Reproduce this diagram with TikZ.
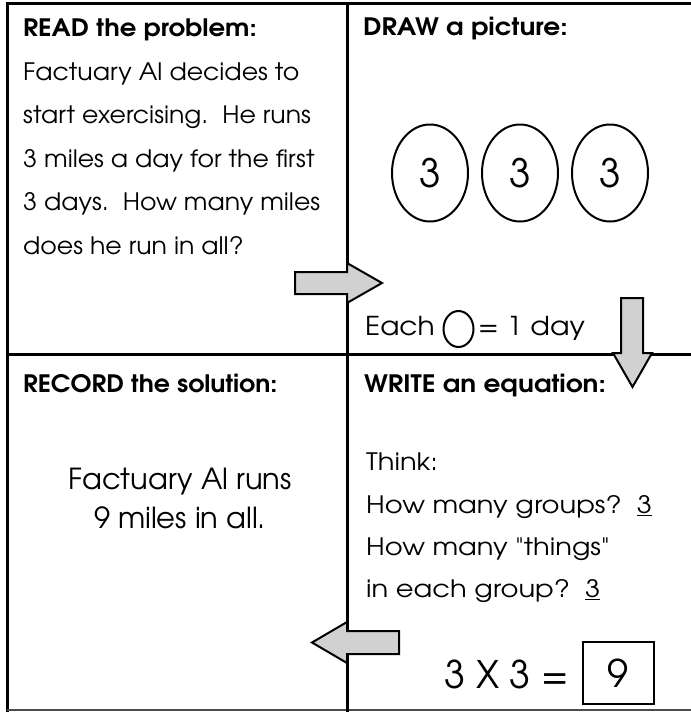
\documentclass[tikz,border=0pt]{standalone}
\usepackage{fontspec}
\usepackage{graphicx}
\setmainfont{TeX Gyre Adventor}[Ligatures=TeXOff]
\usetikzlibrary{shapes.geometric}
\newcommand\stretchtxt[2][1.1]{\scalebox{#1}[1]{#2}}
\begin{document}
\begin{tikzpicture}[x=1pt,y=-1pt,
  frame/.style={line width=3pt, line cap=rect},
  arrowshape/.style={draw, line width=2pt, fill=black!18, line join=miter},
  body/.style={anchor=base west, inner sep=0pt, font=\fontsize{24}{28}\selectfont},
  big/.style={anchor=base, inner sep=0pt, font=\fontsize{29}{34}\selectfont},
  ttl/.style={anchor=base west, inner sep=0pt, font=\bfseries\fontsize{24}{28}\selectfont},
  oval/.style={draw, ellipse, line width=2pt, minimum width=76pt, minimum height=97pt, inner sep=0pt, font=\fontsize{39}{40}\selectfont},
  eqn/.style={inner sep=0pt, font=\fontsize{38}{40}\selectfont}
]
\useasboundingbox (0,0) rectangle (691,713);
% frame coordinates
\coordinate (TL) at (7,3);
\coordinate (TR) at (691,3);
\coordinate (BL) at (7,710);
\coordinate (BR) at (691,710);
\coordinate (VT) at (347,3);
\coordinate (VB) at (347,710);
\coordinate (HL) at (7,354);
\coordinate (HR) at (691,354);
\draw[frame] (TR) -- (TL) -- (BL);
\draw[line width=2pt, black!70] (BL) -- (BR);
\draw[frame] (VT) -- (VB);
\draw[frame] (HL) -- (HR);

% READ panel
\node[ttl] (read) at (23,36) {\stretchtxt[1.08]{READ the problem:}};
\node[body] (l1) at (23,80) {\stretchtxt[1.05]{Factuary Al decides to}};
\node[body] (l2) at (23,123.5) {\stretchtxt[1.05]{start exercising.\ \ He runs}};
\node[body] (l3) at (23,167) {\stretchtxt[1.05]{3 miles a day for the first}};
\node[body] (l4) at (23,210.5) {\stretchtxt[1.05]{3 days.\ \ How many miles}};
\node[body] (l5) at (23,254) {\stretchtxt[1.05]{does he run in all?}};

% DRAW panel
\node[ttl] (draw) at (363,35) {\stretchtxt[1.1]{DRAW a picture:}};
\node[oval] (o1) at (430,173) {3};
\node[oval] (o2) at (520,173) {3};
\node[oval] (o3) at (610,173) {3};
\node[body, font=\fontsize{26}{30}\selectfont] (each) at (365,335) {\stretchtxt[1.08]{Each}};
\node[draw, ellipse, line width=2pt, minimum width=30pt, minimum height=36pt, inner sep=0pt] (small) at (458.5,329) {};
\node[body, font=\fontsize{26}{30}\selectfont] (day) at (478,335) {\stretchtxt{= 1 day}};

% RECORD panel
\node[ttl] (rec) at (23,392) {\stretchtxt[1.05]{RECORD the solution:}};
\node[big] (r1) at (180,489) {Factuary Al runs};
\node[big] (r2) at (180,528) {9 miles in all.};

% WRITE panel
\node[ttl] (wr) at (364,392) {\stretchtxt[1.1]{WRITE an equation:}};
\node[body] (t1) at (366,470) {\stretchtxt[1.14]{Think:}};
\node[body] (t2) at (366,513) {\stretchtxt[1.14]{How many groups?\ \ \underline{3}}};
\node[body] (t3) at (366,555) {\stretchtxt[1.14]{How many "things"}};
\node[body] (t4) at (366,597) {\stretchtxt[1.14]{in each group?\ \ \underline{3}}};
\node[eqn, anchor=base east] (eq) at (569,688) {3 X 3 =};
\node[draw, line width=2pt, minimum width=71pt, minimum height=62pt, inner sep=0pt, font=\fontsize{38}{40}\selectfont] (ans) at (618.5,673) {9};

% arrows
\draw[arrowshape] (295,272) -- (347,272) -- (347,263) -- (382,283) -- (347,303) -- (347,294) -- (295,294) -- cycle;
\draw[arrowshape] (621,298) -- (643,298) -- (643,353) -- (652,353) -- (632.5,387) -- (613,353) -- (621,353) -- cycle;
\draw[arrowshape] (399,631) -- (347,631) -- (347,622) -- (312,642.5) -- (347,663) -- (347,654) -- (399,654) -- cycle;
\end{tikzpicture}
\end{document}
